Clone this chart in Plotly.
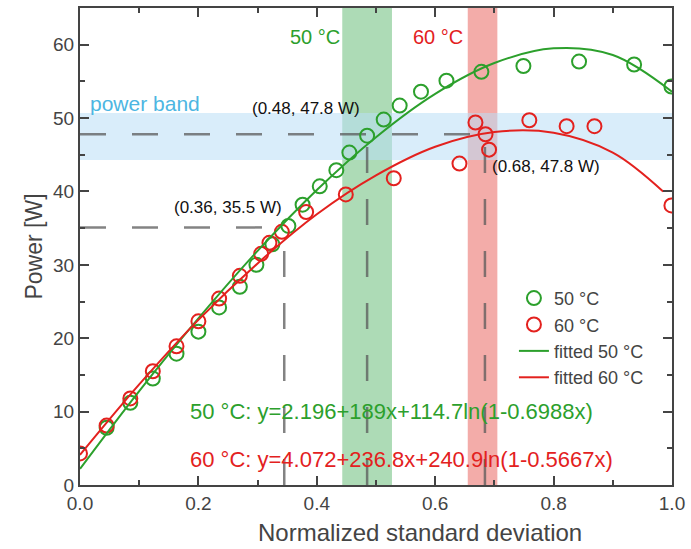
import plotly.graph_objects as go

# ---------------- data ----------------
x50 = [0.045, 0.085, 0.123, 0.163, 0.200, 0.235, 0.270, 0.298, 0.325, 0.352, 0.376,
       0.405, 0.433, 0.455, 0.485, 0.513, 0.540, 0.576, 0.619, 0.678, 0.749, 0.843,
       0.936, 0.999]
y50 = [7.8, 11.2, 14.5, 17.9, 20.9, 24.2, 27.0, 30.0, 32.8, 35.3, 38.2,
       40.7, 42.9, 45.3, 47.6, 49.8, 51.7, 53.6, 55.1, 56.3, 57.1, 57.7,
       57.3, 54.3]

x60 = [0.0, 0.045, 0.085, 0.123, 0.163, 0.200, 0.235, 0.270, 0.306, 0.320, 0.341,
       0.382, 0.449, 0.530, 0.641, 0.668, 0.685, 0.691, 0.759, 0.822, 0.869, 0.999]
y60 = [4.3, 8.1, 11.8, 15.5, 18.9, 22.3, 25.4, 28.5, 31.5, 33.0, 34.5,
       37.2, 39.6, 41.8, 43.8, 49.4, 47.8, 45.7, 49.7, 48.9, 48.9, 38.1]

# fitted curves
fit_x50 = [0.0, 0.1, 0.2, 0.3, 0.4, 0.5, 0.6, 0.7, 0.8, 0.9, 1.0]
fit_y50 = [2.2, 12.8, 22.7, 31.9, 40.2, 47.4, 53.3, 57.5, 59.5, 58.6, 53.6]
fit_x60 = [0.0, 0.1, 0.2, 0.3, 0.4, 0.5, 0.6, 0.7, 0.8, 0.9, 0.985]
fit_y60 = [4.1, 13.7, 22.5, 30.2, 36.9, 42.2, 46.1, 48.1, 48.0, 45.3, 40.0]

# reference points (dashed guides)
ref_x = [0.345, 0.485, 0.684]
ref_y = [35.1, 47.8, 47.8]
ref_labels = ["(0.36, 35.5 W)", "(0.48, 47.8 W)", "(0.68, 47.8 W)"]

# bands
band50 = [0.443, 0.527]
band60 = [0.655, 0.705]
power_band = [44.3, 50.7]

eq50 = "50 °C: y=2.196+189x+114.7ln(1-0.6988x)"
eq60 = "60 °C: y=4.072+236.8x+240.9ln(1-0.5667x)"

GREEN = "#2ca02c"
RED = "#e3211e"
AXC = "#444444"
FONT = "Liberation Sans, Arial, sans-serif"

fig = go.Figure()

fig.add_trace(go.Scatter(x=x50, y=y50, mode="markers", name="50 °C",
                         marker=dict(symbol="circle-open", size=14, color=GREEN,
                                     line=dict(width=2, color=GREEN))))
fig.add_trace(go.Scatter(x=x60, y=y60, mode="markers", name="60 °C",
                         marker=dict(symbol="circle-open", size=14, color=RED,
                                     line=dict(width=2, color=RED))))
fig.add_trace(go.Scatter(x=fit_x50, y=fit_y50, mode="lines", name="fitted 50 °C",
                         line=dict(color=GREEN, width=2, shape="spline")))
fig.add_trace(go.Scatter(x=fit_x60, y=fit_y60, mode="lines", name="fitted 60 °C",
                         line=dict(color=RED, width=2, shape="spline")))

# vertical bands
fig.add_shape(type="rect", xref="x", yref="paper", x0=band50[0], x1=band50[1], y0=0, y1=1,
              fillcolor="rgba(60,170,80,0.42)", line_width=0, layer="below")
fig.add_shape(type="rect", xref="x", yref="paper", x0=band60[0], x1=band60[1], y0=0, y1=1,
              fillcolor="rgba(228,70,65,0.45)", line_width=0, layer="below")
# power band
fig.add_shape(type="rect", xref="paper", yref="y", x0=0, x1=1, y0=power_band[0], y1=power_band[1],
              fillcolor="rgba(185,222,245,0.55)", line_width=0, layer="below")

DASH = dict(color="rgba(90,90,90,0.75)", width=2.5, dash="26px,26px")
# horizontal guides
fig.add_shape(type="line", xref="x", yref="y", x0=0, x1=ref_x[0], y0=ref_y[0], y1=ref_y[0], line=DASH, layer="below")
fig.add_shape(type="line", xref="x", yref="y", x0=0, x1=ref_x[2], y0=ref_y[1], y1=ref_y[1], line=DASH, layer="below")
# vertical guides
for xv, yv in zip(ref_x, ref_y):
    fig.add_shape(type="line", xref="x", yref="y", x0=xv, x1=xv, y0=0, y1=yv, line=DASH, layer="below")

# annotations
ANN_FONT = dict(family=FONT, size=17, color="#111")
fig.add_annotation(x=ref_x[0], y=ref_y[0], text=ref_labels[0], showarrow=False,
                   xanchor="right", yanchor="bottom", xshift=0, yshift=8, font=ANN_FONT)
fig.add_annotation(x=ref_x[1], y=ref_y[1], text=ref_labels[1], showarrow=False,
                   xanchor="right", yanchor="bottom", xshift=-5, yshift=14, font=ANN_FONT)
fig.add_annotation(x=ref_x[2], y=ref_y[2], text=ref_labels[2], showarrow=False,
                   xanchor="left", yanchor="top", xshift=5, yshift=-21, font=ANN_FONT)

fig.add_annotation(x=band50[0], y=1, xref="x", yref="paper", text="50 °C",
                   showarrow=False, xanchor="right", yanchor="middle", yshift=-29, xshift=0,
                   font=dict(family=FONT, size=20, color=GREEN))
fig.add_annotation(x=band60[0], y=1, xref="x", yref="paper", text="60 °C",
                   showarrow=False, xanchor="right", yanchor="middle", yshift=-29, xshift=-3,
                   font=dict(family=FONT, size=20, color=RED))
fig.add_annotation(x=0, y=power_band[1], xref="paper", yref="y", text="power band",
                   showarrow=False, xanchor="left", yanchor="bottom", xshift=8, yshift=-4,
                   font=dict(family=FONT, size=21, color="#4db6e2"))

fig.add_annotation(x=0.183, y=10.0, xref="x", yref="y", text=eq50, showarrow=False,
                   xanchor="left", yanchor="middle",
                   font=dict(family=FONT, size=22, color=GREEN))
fig.add_annotation(x=0.183, y=3.5, xref="x", yref="y", text=eq60, showarrow=False,
                   xanchor="left", yanchor="middle",
                   font=dict(family=FONT, size=22, color=RED))

# x-axis title (sits right of centre in the reference)
fig.add_annotation(x=0.575, y=0, xref="paper", yref="paper", text="Normalized standard deviation",
                   showarrow=False, xanchor="center", yanchor="top", yshift=-32,
                   font=dict(family=FONT, size=24, color=AXC))

axis_common = dict(showline=True, linewidth=2, linecolor=AXC, mirror="allticks",
                   ticks="inside", ticklen=9, tickwidth=2, tickcolor=AXC,
                   showgrid=False, zeroline=False,
                   tickfont=dict(family=FONT, size=19, color=AXC))

fig.update_xaxes(range=[0, 1], dtick=0.2, tick0=0, tickformat=".1f",
                 minor=dict(dtick=0.1, ticks="inside", ticklen=5, tickwidth=2, tickcolor=AXC),
                 **axis_common)
fig.update_yaxes(range=[0, 65], dtick=10, tick0=0,
                 minor=dict(dtick=5, ticks="inside", ticklen=5, tickwidth=2, tickcolor=AXC),
                 title=dict(text="Power [W]", standoff=4,
                            font=dict(family=FONT, size=23, color=AXC)),
                 **axis_common)

fig.update_layout(
    width=691, height=549,
    margin=dict(l=80, r=17, t=6, b=64),
    plot_bgcolor="white", paper_bgcolor="white",
    font=dict(family=FONT, color=AXC),
    legend=dict(x=0.733, y=0.43, xanchor="left", yanchor="top",
                bgcolor="white", borderwidth=0, tracegroupgap=0,
                font=dict(family=FONT, size=18, color=AXC)),
)

fig.write_html("out.html")
